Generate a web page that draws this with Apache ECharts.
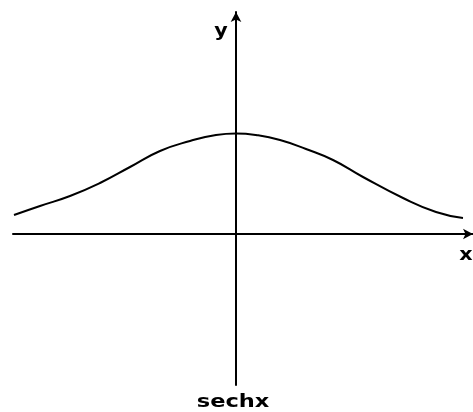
<!DOCTYPE html>
<html>
<head>
<meta charset="utf-8">
<script src="https://cdn.jsdelivr.net/npm/echarts@6/dist/echarts.min.js"></script>
<style>
html,body{margin:0;padding:0;background:#fff;}
#chart{width:473px;height:412px;}
</style>
</head>
<body>
<div id="chart"></div>
<script>
// Curve points (x, y in axis units)
var xValues = [-2.22, -1.96, -1.66, -1.36, -1.06, -0.76, -0.46, -0.2, 0, 0.2, 0.44, 0.7, 0.97, 1.27, 1.67, 2.00, 2.27];
var yValues = [0.19, 0.28, 0.38, 0.51, 0.67, 0.83, 0.93, 0.99, 1.005, 0.99, 0.94, 0.85, 0.74, 0.57, 0.36, 0.22, 0.16];
var xAxisName = 'x';
var yAxisName = 'y';
var chartTitle = 'sechx';

var points = xValues.map(function (x, i) { return [x, yValues[i]]; });

var chart = echarts.init(document.getElementById('chart'), null, {renderer: 'canvas'});
var txt = function (s) {
  return {text: s, fontSize: 18, fontWeight: 'bold', fontFamily: '"DejaVu Sans", Verdana, sans-serif',
    fill: '#000', textAlign: 'center', textVerticalAlign: 'middle'};
};
chart.setOption({
  backgroundColor: '#ffffff',
  animation: false,
  grid: {left: 13, right: 0, top: 12, bottom: 27, containLabel: false},
  xAxis: {
    type: 'value', min: -2.23, max: 2.37,
    axisLine: {onZero: true, lineStyle: {color: '#000', width: 2}, symbol: ['none', 'arrow'], symbolSize: [8, 10]},
    axisTick: {show: false}, axisLabel: {show: false}, splitLine: {show: false}
  },
  yAxis: {
    type: 'value', min: -1.51, max: 2.22,
    axisLine: {onZero: true, lineStyle: {color: '#000', width: 2}, symbol: ['none', 'arrow'], symbolSize: [8, 10]},
    axisTick: {show: false}, axisLabel: {show: false}, splitLine: {show: false}
  },
  series: [{
    type: 'line', data: points, smooth: 0.5, showSymbol: false,
    lineStyle: {color: '#000', width: 2}
  }],
  graphic: [
    {type: 'text', x: 221, y: 31, scaleX: 1.15, style: txt(yAxisName)},
    {type: 'text', x: 466, y: 255, scaleX: 1.15, style: txt(xAxisName)},
    {type: 'text', x: 233, y: 402, scaleX: 1.25, style: txt(chartTitle)}
  ]
});
</script>
</body>
</html>
